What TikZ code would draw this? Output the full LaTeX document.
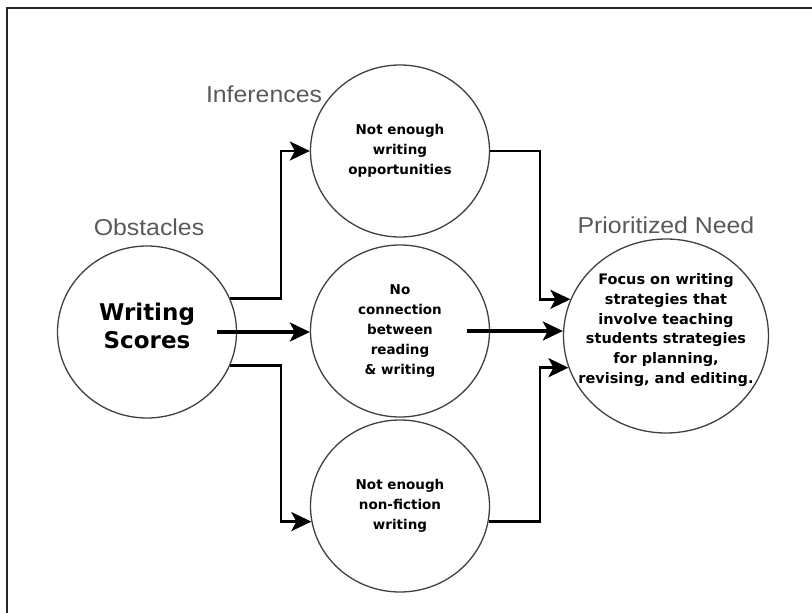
\documentclass[tikz,border=0pt]{standalone}
\usepackage{fontspec}
\setmainfont{Liberation Sans}
\newfontfamily\bubblefont{DejaVu Sans}
\usetikzlibrary{shapes.geometric,arrows.meta}
\begin{document}
\begin{tikzpicture}[x=1pt,y=-1pt,>={Stealth[length=20pt,width=19pt,inset=5pt]},line join=miter,
    bubble/.style={draw=black!75,line width=1.3pt,ellipse,minimum width=179pt,minimum height=172pt,inner sep=0pt,align=center,font=\bubblefont\bfseries\fontsize{13.5}{19.8}\selectfont},
    bubbletext/.style={inner sep=0pt,align=center,font=\bubblefont\bfseries\fontsize{14.5}{19.8}\selectfont},
    heading/.style={text=black!65,xscale=1.08,font=\fontsize{23}{26}\selectfont},
    elbow/.style={->,line width=2.5pt},
    straight/.style={->,line width=3.5pt}]
  \useasboundingbox (0,0) rectangle (812,613);
  \draw[line width=2pt,black!85] (812,8) -| (7,613);
  % circles
  \node[bubble] (scores) at (147,332) {};
  \node[bubbletext,font=\bubblefont\bfseries\fontsize{23}{28}\selectfont] (scorestext) at ([yshift=6pt]scores.center) {Writing\\Scores};
  \node[bubble] (opps) at (400,151) {Not enough\\writing\\opportunities};
  \node[bubble] (link) at (400,331) {No\\connection\\between\\reading\\\& writing};
  \node[bubble] (nonfic) at (400,506) {Not enough\\non-fiction\\writing};
  \node[bubble,minimum width=205pt,minimum height=194pt] (need) at (666,336) {};
  \node[bubbletext] (needtext) at ([yshift=6pt]need.center) {Focus on writing\\strategies that\\involve teaching\\students strategies\\for planning,\\revising, and editing.};
  % headings
  \node[heading] (obst) at (149,227) {Obstacles};
  \node[heading] (infer) at (264,94) {Inferences};
  \node[heading] (prio) at (666,225) {Prioritized Need};
  % connectors
  \coordinate (splitL) at (281,0);
  \coordinate (splitR) at (540,0);
  \draw[elbow] (scores.22) -| (opps.west -| splitL) -- (opps.west);
  \draw[elbow] (scores.-22) -| (nonfic.190 -| splitL) -- (nonfic.190);
  \draw[straight] ([xshift=-20pt]scores.east) -- (link.west |- scores.east);
  \draw[elbow] (opps.east) -| (need.159 -| splitR) -- (need.159);
  \draw[elbow] (nonfic.-10) -| (need.198 -| splitR) -- (need.198);
  \draw[straight] ([xshift=-23pt]link.east) -- (need.west |- link.east);
\end{tikzpicture}
\end{document}
